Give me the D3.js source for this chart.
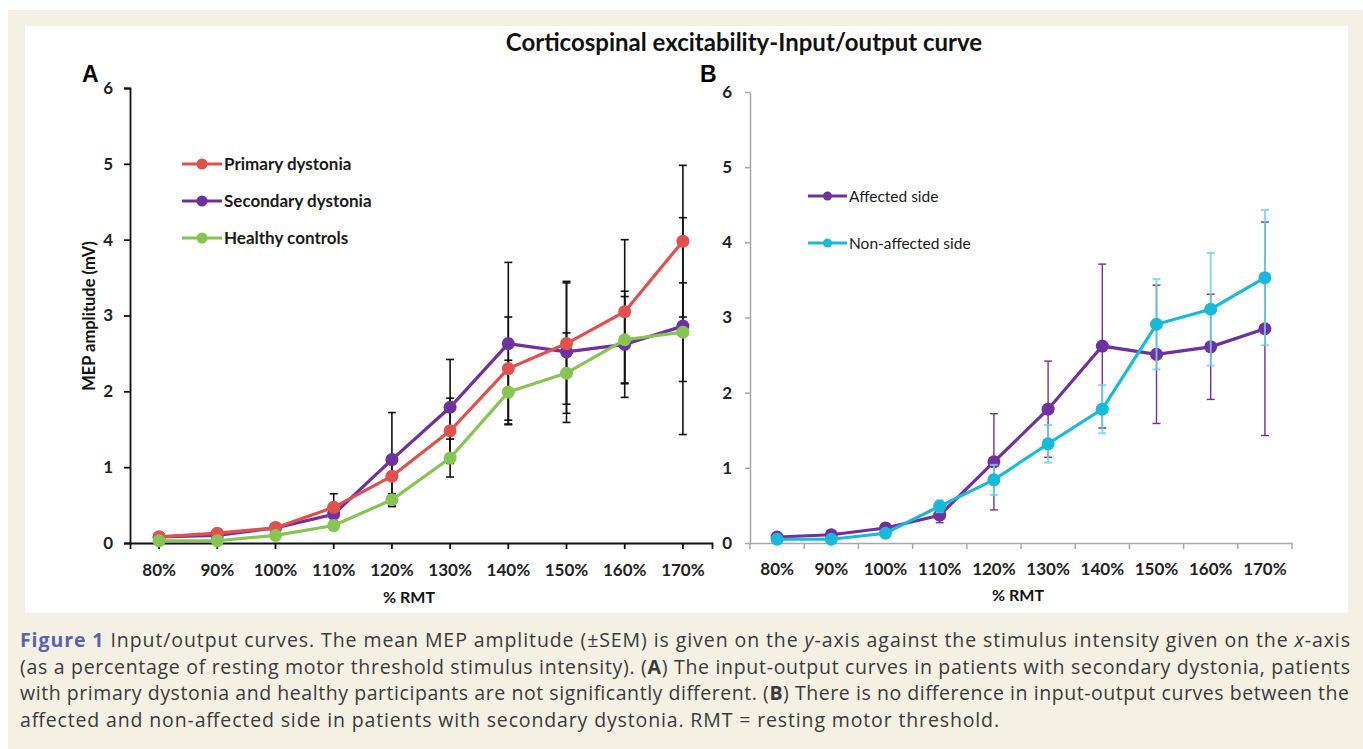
<!DOCTYPE html>
<html>
<head>
<meta charset="utf-8">
<script src="https://cdn.jsdelivr.net/npm/d3@7"></script>
<style>
  body { margin: 0; background: #fff; }
  #fig { position: relative; width: 1363px; height: 749px; overflow: hidden; }
</style>
</head>
<body>
<div id="fig"></div>
<script>
// stimulus intensity categories (% of resting motor threshold)
const stimulus = ["80%", "90%", "100%", "110%", "120%", "130%", "140%", "150%", "160%", "170%"];
const yTicks = [0, 1, 2, 3, 4, 5, 6];

// panel A: mean MEP amplitude (mV) and SEM
const primaryMean   = [0.08, 0.13, 0.20, 0.47, 0.88, 1.48, 2.30, 2.63, 3.05, 3.98];
const primarySem    = [0.03, 0.04, 0.05, 0.18, 0.23, 0.43, 0.68, 0.80, 0.95, 1.00];
const secondaryMean = [0.08, 0.10, 0.20, 0.38, 1.10, 1.79, 2.63, 2.52, 2.62, 2.86];
const secondarySem  = [0.03, 0.03, 0.06, 0.10, 0.62, 0.63, 1.07, 0.93, 0.70, 1.43];
const healthyMean   = [0.03, 0.03, 0.10, 0.23, 0.57, 1.12, 1.99, 2.24, 2.68, 2.78];
const healthySem    = [0.01, 0.01, 0.03, 0.05, 0.08, 0.25, 0.42, 0.53, 0.57, 0.65];

// panel B: secondary dystonia, affected vs non-affected side
const affectedMean    = [0.08, 0.11, 0.20, 0.37, 1.08, 1.78, 2.62, 2.51, 2.61, 2.85];
const affectedSem     = [0.03, 0.03, 0.06, 0.10, 0.64, 0.64, 1.09, 0.92, 0.70, 1.42];
const nonAffectedMean = [0.05, 0.05, 0.13, 0.49, 0.84, 1.32, 1.78, 2.91, 3.11, 3.53];
const nonAffectedSem  = [0.02, 0.02, 0.04, 0.08, 0.20, 0.25, 0.32, 0.60, 0.75, 0.90];

const legendA = ["Primary dystonia", "Secondary dystonia", "Healthy controls"];
const legendB = ["Affected side", "Non-affected side"];

// caption, one array per printed line: [text, style]
const captionLines = [
    [["Figure 1", "fig"], ["  Input/output curves. The mean MEP amplitude (±SEM) is given on the ", ""], ["y", "i"],
     ["-axis against the stimulus intensity given on the ", ""], ["x", "i"], ["-axis", ""]],
    [["(as a percentage of resting motor threshold stimulus intensity). (", ""], ["A", "b"],
     [") The input-output curves in patients with secondary dystonia, patients", ""]],
    [["with primary dystonia and healthy participants are not significantly different. (", ""], ["B", "b"],
     [") There is no difference in input-output curves between the", ""]],
    [["affected and non-affected side in patients with secondary dystonia. RMT = resting motor threshold.", ""]]
];
const captionWidths = [1330, 1330, 1329, 979];

const red = "#e0504d", purple = "#7030a0", green = "#86c553", cyan = "#19b9da";
const font = "Lato, 'Open Sans', sans-serif";

const fig = d3.select("#fig");
const svg = fig.append("svg").attr("width", 1363).attr("height", 749);

svg.append("rect").attr("x", 8).attr("y", 10).attr("width", 1355).attr("height", 739).attr("fill", "#f4f0e3");
svg.append("rect").attr("x", 25).attr("y", 26).attr("width", 1323).attr("height", 587).attr("fill", "#fff");

svg.append("text")
    .attr("x", 744).attr("y", 51)
    .attr("text-anchor", "middle")
    .style("font-family", font).style("font-weight", 700).style("font-size", "24px")
    .attr("fill", "#111")
    .text("Corticospinal excitability-Input/output curve");

function makeSeries(name, mean, sem, color) {
    return { name: name, color: color,
             values: stimulus.map((c, i) => ({ cat: c, v: mean[i], e: sem[i] })) };
}

function drawSeries(g, series, x, y, opt) {
    let cx = d => x(d.cat) + x.bandwidth() / 2;

    series.forEach(s => {
        let eb = g.append("g").attr("class", "errorbars");
        let col = opt.barColor || s.color;
        let bars = eb.selectAll("g").data(s.values).enter().append("g")
            .attr("stroke", col).attr("stroke-width", opt.barWidth).attr("opacity", opt.barOpacity || 1);
        bars.append("line")
            .attr("x1", cx).attr("x2", cx)
            .attr("y1", d => y(d.v - d.e)).attr("y2", d => y(d.v + d.e));
        bars.append("line")
            .attr("x1", d => cx(d) - 4).attr("x2", d => cx(d) + 4)
            .attr("y1", d => y(d.v + d.e)).attr("y2", d => y(d.v + d.e));
        bars.append("line")
            .attr("x1", d => cx(d) - 4).attr("x2", d => cx(d) + 4)
            .attr("y1", d => y(d.v - d.e)).attr("y2", d => y(d.v - d.e));
    });

    let line = d3.line().x(cx).y(d => y(d.v));
    series.forEach(s => {
        g.append("path")
            .datum(s.values)
            .attr("fill", "none")
            .attr("stroke", s.color)
            .attr("stroke-width", 3.2)
            .attr("d", line);
        g.append("g").selectAll("circle").data(s.values).enter().append("circle")
            .attr("cx", cx).attr("cy", d => y(d.v))
            .attr("r", 6.5)
            .attr("fill", s.color);
    });
}

function drawLegend(g, items, x0, y0, dy, opt) {
    let row = g.selectAll("g.leg").data(items).enter().append("g")
        .attr("class", "leg")
        .attr("transform", (d, i) => "translate(" + x0 + "," + (y0 + i * dy) + ")");
    row.append("line").attr("x1", 0).attr("x2", opt.len)
        .attr("stroke", d => d.color).attr("stroke-width", 3);
    row.append("circle").attr("cx", opt.len / 2).attr("r", opt.r).attr("fill", d => d.color);
    row.append("text")
        .attr("x", opt.len + 2).attr("y", 5.5)
        .style("font-family", font).style("font-weight", opt.weight).style("font-size", opt.size)
        .attr("fill", "#1a1a1a")
        .text(d => d.name);
}

function styleTicks(a, size) {
    a.selectAll("text")
        .style("font-family", font).style("font-weight", 700).style("font-size", size).attr("fill", "#222");
}

// ---------- panel A ----------
const seriesA = [
    makeSeries(legendA[1], secondaryMean, secondarySem, purple),
    makeSeries(legendA[0], primaryMean, primarySem, red),
    makeSeries(legendA[2], healthyMean, healthySem, green)
];

const xA = d3.scaleBand().domain(stimulus).range([130, 712]);
const yA = d3.scaleLinear().domain([0, 6]).range([543, 88]);
const gA = svg.append("g");

gA.append("g")
    .attr("transform", "translate(0,543)")
    .call(d3.axisBottom(xA).tickSizeInner(6).tickSizeOuter(6))
    .call(a => a.selectAll("path, line").attr("stroke", "#111").attr("stroke-width", 1.8))
    .call(a => a.selectAll("text").attr("y", 33).attr("dy", null))
    .call(a => styleTicks(a, "17px"));

gA.append("g")
    .attr("transform", "translate(130,0)")
    .call(d3.axisLeft(yA).tickValues(yTicks).tickFormat(d3.format("d")).tickSizeInner(6).tickSizeOuter(6).tickPadding(11))
    .call(a => a.selectAll("path, line").attr("stroke", "#111").attr("stroke-width", 1.8))
    .call(a => styleTicks(a, "17px"));

gA.append("text")
    .attr("transform", "translate(95,316) rotate(-90)")
    .attr("text-anchor", "middle")
    .style("font-family", font).style("font-weight", 700).style("font-size", "16.5px")
    .attr("fill", "#111")
    .text("MEP amplitude (mV)");

gA.append("text")
    .attr("x", 409).attr("y", 603).attr("text-anchor", "middle")
    .style("font-family", font).style("font-weight", 700).style("font-size", "16px")
    .attr("fill", "#111").text("% RMT");

gA.append("text")
    .attr("x", 82).attr("y", 82)
    .style("font-family", "'Liberation Sans', Arial, sans-serif").style("font-weight", 700).style("font-size", "23px")
    .attr("fill", "#000").text("A");

drawSeries(gA, seriesA, xA, yA, { barColor: "#111", barWidth: 1.6 });
drawLegend(gA, [seriesA[1], seriesA[0], seriesA[2]], 182, 164, 37,
    { len: 40, r: 5.5, weight: 700, size: "17px" });

// ---------- panel B ----------
const seriesB = [
    makeSeries(legendB[0], affectedMean, affectedSem, purple),
    makeSeries(legendB[1], nonAffectedMean, nonAffectedSem, cyan)
];

const xB = d3.scaleBand().domain(stimulus).range([750, 1292]);
const yB = d3.scaleLinear().domain([0, 6]).range([543, 92]);
const gB = svg.append("g");
const grey = "#a8a8a8";

gB.append("g")
    .attr("transform", "translate(0,543)")
    .call(d3.axisBottom(xB).tickSize(0))
    .call(a => a.selectAll("path").attr("stroke", grey).attr("stroke-width", 1.5))
    .call(a => a.selectAll("text").attr("y", 32).attr("dy", null))
    .call(a => styleTicks(a, "17px"));

// excel style: tick marks between categories
gB.append("g").selectAll("line")
    .data(stimulus.map(d => xB(d)).concat([xB.range()[1]]))
    .enter().append("line")
    .attr("x1", d => d).attr("x2", d => d)
    .attr("y1", 543).attr("y2", 549)
    .attr("stroke", grey).attr("stroke-width", 1.5);

gB.append("g")
    .attr("transform", "translate(750,0)")
    .call(d3.axisLeft(yB).tickValues(yTicks).tickFormat(d3.format("d")).tickSizeInner(5).tickSizeOuter(0).tickPadding(13))
    .call(a => a.selectAll("path, line").attr("stroke", grey).attr("stroke-width", 1.5))
    .call(a => styleTicks(a, "17px"));

gB.append("text")
    .attr("x", 1018).attr("y", 601).attr("text-anchor", "middle")
    .style("font-family", font).style("font-weight", 700).style("font-size", "16px")
    .attr("fill", "#111").text("% RMT");

gB.append("text")
    .attr("x", 700).attr("y", 82)
    .style("font-family", "'Liberation Sans', Arial, sans-serif").style("font-weight", 700).style("font-size", "23px")
    .attr("fill", "#000").text("B");

drawSeries(gB, [seriesB[0]], xB, yB, { barWidth: 1.4 });
drawSeries(gB, [seriesB[1]], xB, yB, { barColor: "#6fd3e8", barWidth: 2, barOpacity: 0.85 });
drawLegend(gB, seriesB, 808, 196, 47, { len: 39, r: 4.5, weight: 400, size: "15.5px" });

// ---------- caption ----------
const cap = svg.append("g")
    .style("font-family", "'Open Sans', 'Noto Sans', sans-serif")
    .style("font-size", "19.5px")
    .style("white-space", "pre")
    .attr("fill", "#3a3a3a");

cap.selectAll("text").data(captionLines).enter().append("text")
    .attr("x", 20)
    .attr("y", (d, i) => 647 + i * 26.5)
    .attr("textLength", (d, i) => captionWidths[i])
    .attr("lengthAdjust", "spacing")
    .each(function (line) {
        d3.select(this).selectAll("tspan").data(line).enter().append("tspan")
            .text(p => p[0])
            .attr("fill", p => p[1] === "fig" ? "#5c60b0" : null)
            .style("font-weight", p => (p[1] === "fig" || p[1] === "b") ? 700 : null)
            .style("font-style", p => p[1] === "i" ? "italic" : null);
    });
</script>
</body>
</html>
